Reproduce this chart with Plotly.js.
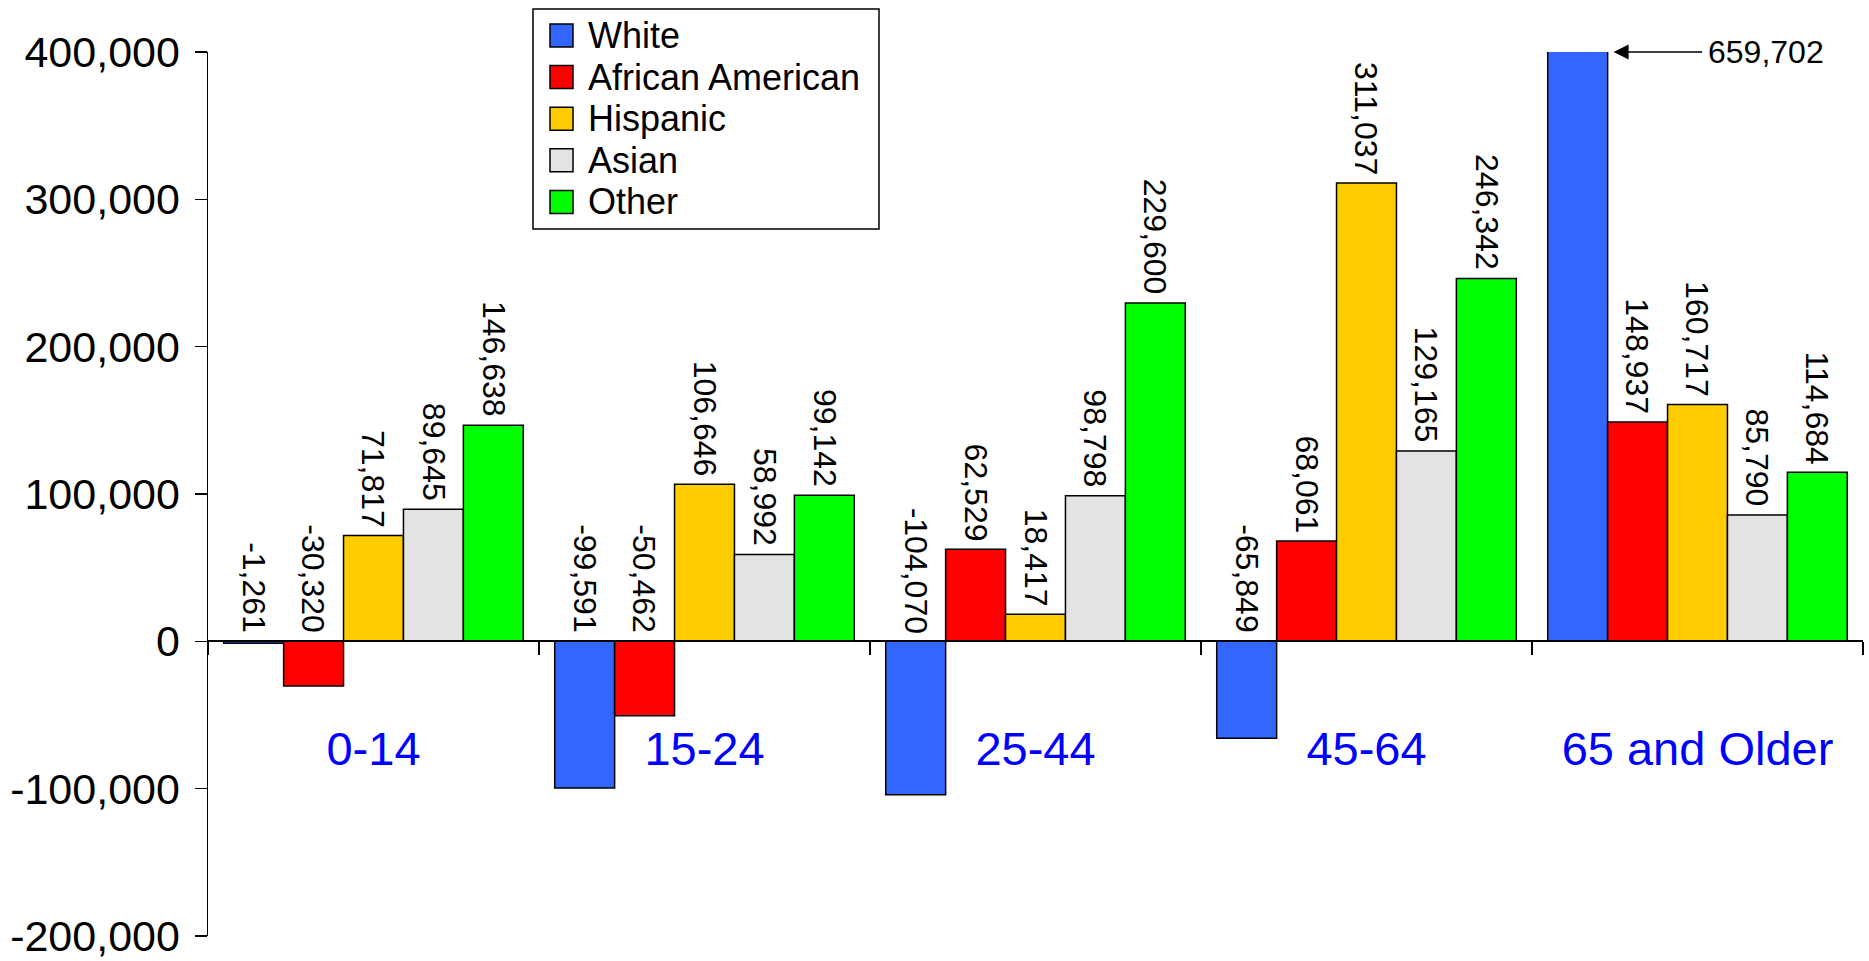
<!DOCTYPE html>
<html><head><meta charset="utf-8">
<script src="https://cdn.plot.ly/plotly-3.0.1.min.js"></script>
<style>html,body{margin:0;padding:0;background:#fff}#chart{width:1869px;height:961px}</style>
</head><body><div id="chart"></div>
<script>
const categories = ['0-14', '15-24', '25-44', '45-64', '65 and Older'];
const seriesNames = ['White', 'African American', 'Hispanic', 'Asian', 'Other'];
const white = [-1261, -99591, -104070, -65849, 659702];
const africanAmerican = [-30320, -50462, 62529, 68061, 148937];
const hispanic = [71817, 106646, 18417, 311037, 160717];
const asian = [89645, 58992, 98798, 129165, 85790];
const other = [146638, 99142, 229600, 246342, 114684];
const seriesColors = ['#3366FF', '#FF0000', '#FFCC00', '#E3E3E3', '#00FF00'];
const yTickVals = [-200000, -100000, 0, 100000, 200000, 300000, 400000];
const yTickText = ['-200,000', '-100,000', '0', '100,000', '200,000', '300,000', '400,000'];

const seriesValues = [white, africanAmerican, hispanic, asian, other];
const yMin = yTickVals[0], yMax = yTickVals[yTickVals.length - 1];
const FONT = 'Liberation Sans, Arial, Helvetica, sans-serif';
const W = 1869, H = 961;
const M = {l: 208, r: 6, t: 52, b: 25};
const plotW = W - M.l - M.r, plotH = H - M.t - M.b;
const px2x = px => (px - M.l) / plotW;          // pixel -> paper x
const py2y = py => (H - M.b - py) / plotH;      // pixel -> paper y

const BARGAP = 0.095;
const nSeries = seriesValues.length;
const groupWidth = 1 - BARGAP;
const barWidth = groupWidth / nSeries;
const offsetOf = i => -groupWidth / 2 + barWidth * (i + 0.5);
const fmt = v => v.toLocaleString('en-US');

const traces = seriesValues.map((vals, i) => ({
  type: 'bar',
  name: seriesNames[i],
  x: categories,
  y: vals,
  marker: {color: seriesColors[i], line: {color: '#000', width: 1.5}},
  hoverinfo: 'x+y+name',
  cliponaxis: true
}));

const annotations = [];
const shapes = [];
seriesValues.forEach((vals, i) => {
  vals.forEach((v, j) => {
    if (v > yMax) {
      annotations.push({
        xref: 'x', yref: 'y',
        x: j + offsetOf(i) + barWidth / 2, y: yMax,
        text: fmt(v), showarrow: true,
        arrowhead: 2, arrowsize: 2, arrowwidth: 1.5, arrowcolor: '#000',
        standoff: 6, ax: 158, ay: 0, borderpad: 5,
        font: {family: FONT, size: 32, color: '#000'}
      });
    } else {
      annotations.push({
        xref: 'x', yref: 'y',
        x: j + offsetOf(i), y: Math.max(v, 0),
        text: fmt(v), showarrow: false,
        textangle: 90, xanchor: 'center', yanchor: 'bottom', yshift: 6,
        font: {family: FONT, size: 32, color: '#000'}
      });
    }
  });
});

// Legend box (drawn as shapes + text so its size matches the original)
const LEG = {x0: 533, y0: 9, x1: 879, y1: 229, swX: 550, sw: 23, cy0: 35.5, step: 41.6, textX: 586, fontSize: 36};
shapes.push({
  type: 'rect', xref: 'paper', yref: 'paper', layer: 'above',
  x0: px2x(LEG.x0), x1: px2x(LEG.x1), y0: py2y(LEG.y1), y1: py2y(LEG.y0),
  line: {color: '#000', width: 1.5}, fillcolor: '#fff'
});
seriesNames.forEach((name, i) => {
  const cy = LEG.cy0 + LEG.step * i;
  shapes.push({
    type: 'rect', xref: 'paper', yref: 'paper', layer: 'above',
    x0: px2x(LEG.swX), x1: px2x(LEG.swX + LEG.sw),
    y0: py2y(cy + LEG.sw / 2), y1: py2y(cy - LEG.sw / 2),
    line: {color: '#000', width: 1.5}, fillcolor: seriesColors[i]
  });
  annotations.push({
    xref: 'paper', yref: 'paper', x: px2x(LEG.textX), y: py2y(cy),
    xanchor: 'left', yanchor: 'middle', showarrow: false, text: name,
    font: {family: FONT, size: LEG.fontSize, color: '#000'}
  });
});

const layout = {
  width: W, height: H,
  margin: {l: M.l, r: M.r, t: M.t, b: M.b, pad: 0},
  paper_bgcolor: '#fff', plot_bgcolor: '#fff',
  font: {family: FONT, color: '#000'},
  barmode: 'group', bargap: BARGAP, bargroupgap: 0,
  showlegend: false,
  xaxis: {
    type: 'category', range: [-0.5, categories.length - 0.5],
    anchor: 'free', position: (0 - yMin) / (yMax - yMin),
    showline: true, linecolor: '#000', linewidth: 2,
    ticks: 'outside', tickson: 'boundaries', ticklen: 13, tickwidth: 1.5, tickcolor: '#000',
    tickfont: {family: FONT, size: 47, color: '#0000FF'},
    ticklabelstandoff: 66,
    showgrid: false, zeroline: false, fixedrange: true
  },
  yaxis: {
    range: [yMin, yMax],
    tickmode: 'array', tickvals: yTickVals, ticktext: yTickText,
    ticks: 'outside', ticklen: 12, tickwidth: 1.5, tickcolor: '#000',
    showline: true, linecolor: '#000', linewidth: 1.5,
    tickfont: {family: FONT, size: 43, color: '#000'},
    ticklabelstandoff: 6, ticklabeloverflow: 'allow',
    showgrid: false, zeroline: false, fixedrange: true
  },
  shapes: shapes,
  annotations: annotations
};

Plotly.newPlot('chart', traces, layout, {displayModeBar: false, staticPlot: true});
</script>
</body></html>
